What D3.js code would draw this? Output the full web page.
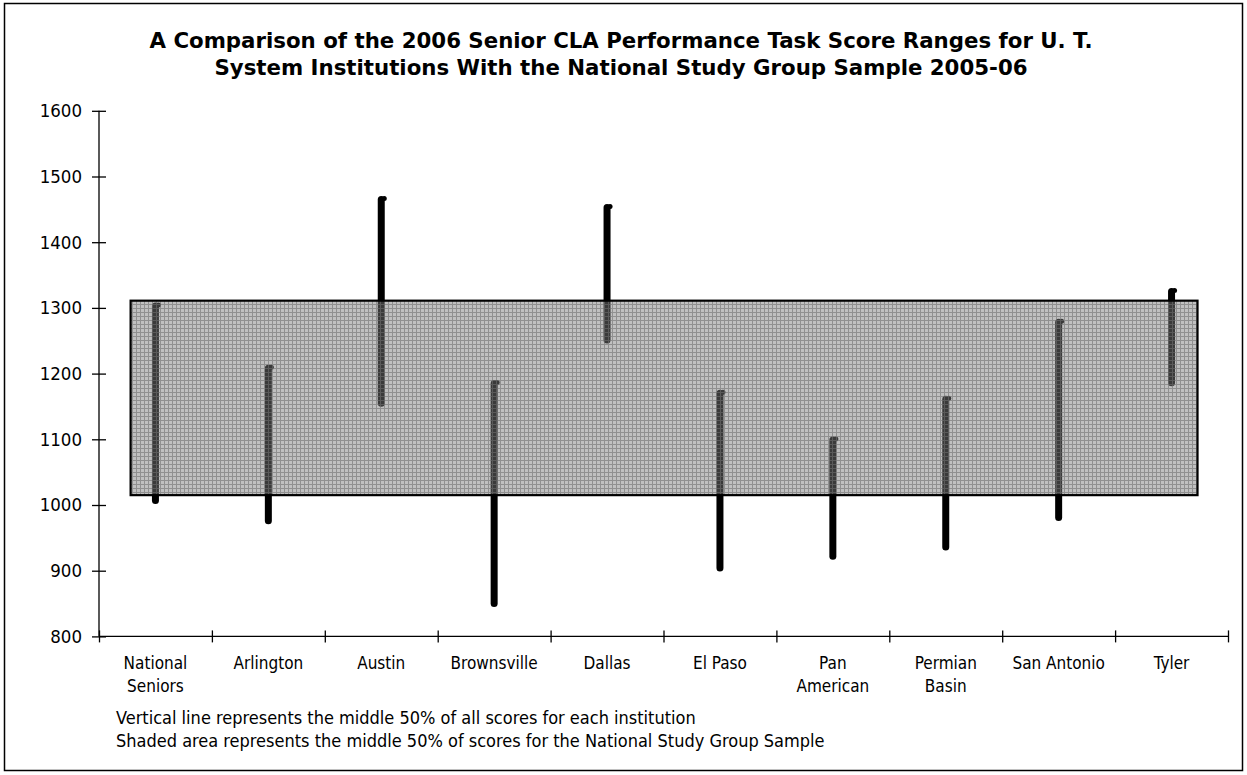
<!DOCTYPE html>
<html>
<head>
<meta charset="utf-8">
<script src="https://cdn.jsdelivr.net/npm/d3@7"></script>
<style>
  html, body { margin: 0; padding: 0; background: #fff; }
  svg { display: block; }
  text { font-family: "DejaVu Sans Condensed", "DejaVu Sans", sans-serif; font-stretch: condensed; fill: #000; }
  text.title { font-family: "DejaVu Sans", sans-serif; font-stretch: normal; }
</style>
</head>
<body>
<svg id="chart" width="1247" height="775"></svg>
<script>
// ---- data ----
const titleLines = [
  "A Comparison of the 2006 Senior CLA Performance Task Score Ranges for U. T.",
  "System Institutions With the National Study Group Sample 2005-06"
];
const categories = ["National Seniors", "Arlington", "Austin", "Brownsville", "Dallas",
                    "El Paso", "Pan American", "Permian Basin", "San Antonio", "Tyler"];
const categoryLabels = [["National", "Seniors"], ["Arlington"], ["Austin"], ["Brownsville"], ["Dallas"],
                        ["El Paso"], ["Pan", "American"], ["Permian", "Basin"], ["San Antonio"], ["Tyler"]];
const lowScores  = [1007, 976, 1155, 850, 1251, 904, 922, 936, 981, 1186];
const highScores = [1303, 1208, 1465, 1185, 1453, 1170, 1099, 1161, 1278, 1325];
const nationalBand = [1015, 1311];
const yTicks = [800, 900, 1000, 1100, 1200, 1300, 1400, 1500, 1600];
const footnotes = [
  "Vertical line represents the middle 50% of all scores for each institution",
  "Shaded area represents the middle 50% of scores for the National Study Group Sample"
];

// ---- layout ----
const plot = { left: 99, right: 1228, top: 110.8, bottom: 636.4 };
const svg = d3.select("#chart");

// outer frame
svg.append("rect").attr("x", 4.5).attr("y", 3.5).attr("width", 1238).attr("height", 767)
  .attr("fill", "#fff").attr("stroke", "#000").attr("stroke-width", 1.5);

// pattern for shaded area
const defs = svg.append("defs");
const pat = defs.append("pattern").attr("id", "mesh").attr("patternUnits", "userSpaceOnUse")
  .attr("width", 4).attr("height", 4);
pat.append("rect").attr("width", 4).attr("height", 4).attr("fill", "rgb(122,122,122)").attr("fill-opacity", 0.475);
pat.append("rect").attr("x", 0).attr("y", 0).attr("width", 4).attr("height", 1).attr("fill", "rgb(112,112,112)").attr("fill-opacity", 0.6);
pat.append("rect").attr("x", 0).attr("y", 1).attr("width", 1).attr("height", 3).attr("fill", "rgb(112,112,112)").attr("fill-opacity", 0.6);

// scales
const y = d3.scaleLinear().domain([800, 1600]).range([plot.bottom, plot.top]);
const x = d3.scaleBand().domain(categories).range([plot.left, plot.right]).padding(0);
const xIdx = d3.scaleLinear().domain([0, categories.length]).range([plot.left, plot.right]);
const cx = c => x(c) + x.bandwidth() / 2;

// title
svg.append("g").selectAll("text").data(titleLines).join("text")
  .attr("class", "title")
  .attr("x", 621).attr("y", (d, i) => 48 + i * 27)
  .attr("text-anchor", "middle")
  .style("font-weight", "bold").style("font-size", "21.3px")
  .text(d => d);

// y axis
const yAxis = svg.append("g").attr("transform", `translate(${plot.left},0)`)
  .call(d3.axisLeft(y).tickValues(yTicks).tickSize(7).tickPadding(10).tickFormat(d3.format("d")));
yAxis.select(".domain").attr("d", `M0,${plot.top}V${plot.bottom}`).attr("stroke", "#000").attr("stroke-width", 1.3);
yAxis.selectAll(".tick line").attr("x1", 7).attr("stroke", "#000").attr("stroke-width", 1.3);
yAxis.selectAll(".tick text").style("font-size", "18.5px").style("font-family", null).attr("fill", "#000");

// x axis
const xAxis = svg.append("g").attr("transform", `translate(0,${plot.bottom})`)
  .call(d3.axisBottom(xIdx).tickValues(d3.range(categories.length + 1)).tickSize(6).tickFormat(""));
xAxis.select(".domain").attr("d", `M${plot.left},0H${plot.right}`).attr("stroke", "#000").attr("stroke-width", 1.3);
xAxis.selectAll(".tick line").attr("y1", -6).attr("stroke", "#000").attr("stroke-width", 1.3);

// category labels
const lab = svg.append("g").selectAll("text").data(categories).join("text")
  .attr("x", d => cx(d)).attr("y", 669)
  .attr("text-anchor", "middle").style("font-size", "17px");
lab.selectAll("tspan").data((d, i) => categoryLabels[i]).join("tspan")
  .attr("x", function () { return d3.select(this.parentNode).attr("x"); })
  .attr("dy", (d, i) => i === 0 ? 0 : 22.5)
  .text(d => d);

// range lines (institutions)
const bars = svg.append("g");
bars.selectAll("line").data(categories).join("line")
  .attr("x1", d => cx(d)).attr("x2", d => cx(d))
  .attr("y1", (d, i) => y(lowScores[i])).attr("y2", (d, i) => y(highScores[i]))
  .attr("stroke", "#000").attr("stroke-width", 7).attr("stroke-linecap", "round");
bars.selectAll("circle").data(categories).join("circle")
  .attr("cx", d => cx(d) + 3).attr("cy", (d, i) => y(highScores[i]) - 1)
  .attr("r", 2.5).attr("fill", "#000");

// shaded national band (over the lines)
const bw = x.bandwidth();
svg.append("rect")
  .attr("x", cx(categories[0]) - 0.22 * bw)
  .attr("y", y(nationalBand[1]))
  .attr("width", (cx(categories[categories.length - 1]) + 0.23 * bw) - (cx(categories[0]) - 0.22 * bw))
  .attr("height", y(nationalBand[0]) - y(nationalBand[1]))
  .attr("fill", "url(#mesh)").attr("stroke", "#000").attr("stroke-width", 2.2);

// footnotes
svg.append("g").selectAll("text").data(footnotes).join("text")
  .attr("x", 116).attr("y", (d, i) => 724 + i * 22.5)
  .style("font-size", "18px")
  .text(d => d);
</script>
</body>
</html>
